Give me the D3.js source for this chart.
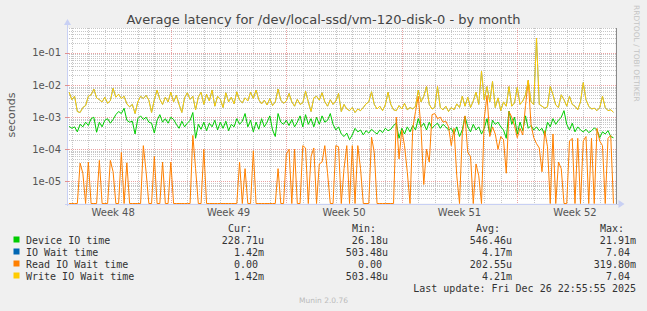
<!DOCTYPE html>
<html>
<head>
<meta charset="utf-8">
<script src="https://cdn.jsdelivr.net/npm/d3@7"></script>
<style>
  body { margin: 0; background: #f0f0f0; }
  svg { display: block; }
  text { font-family: "DejaVu Sans", sans-serif; }
  .mono { font-family: "DejaVu Sans Mono", monospace; white-space: pre; }
</style>
</head>
<body>
<svg id="chart"></svg>
<script>
/* data: one sample every 4 hours, values in microseconds */
const startTime = new Date(2025, 10, 23, 20, 0);
const stepHours = 4;

const deviceIO = [
  520, 450, 500, 350, 600, 500, 700, 550, 900, 1000,
  340, 700, 500, 800, 900, 650, 850, 1200, 1500, 1300,
  1900, 800, 700, 750, 300, 900, 1100, 850, 1000, 700,
  650, 320, 800, 1200, 700, 900, 650, 1000, 850, 600,
  450, 750, 500, 650, 800, 1400, 220, 600, 420, 700,
  380, 650, 500, 800, 400, 700, 450, 750, 380, 600,
  500, 900, 600, 750, 1300, 500, 800, 350, 700, 420,
  900, 500, 700, 1100, 400, 250, 1300, 700, 600, 800,
  550, 850, 500, 700, 1100, 500, 1200, 600, 900, 500,
  1000, 600, 1100, 700, 800, 1300, 600, 400, 500, 300,
  250, 320, 200, 280, 450, 350, 400, 280, 380, 320,
  420, 350, 300, 400, 330, 450, 380, 420, 550, 650,
  220, 450, 300, 500, 350, 550, 400, 900, 500, 650,
  400, 700, 450, 560, 650, 450, 600, 500, 400, 450,
  300, 500, 250, 400, 1050, 500, 350, 600, 400, 500,
  300, 450, 900, 280, 800, 600, 700, 500, 400, 220,
  1550, 600, 1000, 300, 700, 380, 1100, 450, 550, 400,
  500, 380, 450, 270, 700, 500, 900, 600, 800, 1000,
  1600, 600, 400, 650, 350, 500, 400, 350, 420, 330,
  380, 460, 400, 230, 350, 300, 380, 250, 229
];

const writeWait = [
  6000, 3500, 4500, 1500, 1400, 2000, 2300, 4500, 5000, 7500,
  4000, 3500, 3000, 4200, 2700, 3300, 8000, 4200, 5200, 3800,
  4500, 2600, 2100, 2500, 1300, 3000, 4500, 3800, 4800, 3400,
  1400, 3500, 7000, 3600, 2500, 4200, 3000, 6000, 3000, 4800,
  2500, 1400, 4000, 5800, 3600, 4500, 1700, 4200, 6000, 2500,
  5200, 3200, 7000, 2200, 4500, 3600, 2000, 5800, 3000, 4200,
  2600, 6200, 3400, 2800, 4000, 3200, 6000, 3800, 7000, 3500,
  2600, 3400, 2400, 3800, 2300, 3000, 7500, 3400, 2700, 3200,
  5500, 3000, 2200, 3600, 2500, 2800, 6500, 3000, 1500, 4000,
  4500, 3400, 5800, 3000, 2200, 3500, 2500, 3200, 5500, 1500,
  2500, 1800, 1600, 2000, 1400, 1800, 1600, 2000, 2600, 3000,
  6200, 2500, 1800, 2200, 1600, 2400, 6000, 2500, 1700, 1600,
  2300, 1800, 2700, 1700, 2000, 1800, 2200, 7000, 3000, 4500,
  9000, 2500, 1800, 2000, 9000, 2000, 1700, 2200, 1500, 2000,
  1700, 2600, 2000, 4500, 2200, 4200, 2000, 3200, 6000, 2500,
  27000, 3500, 9000, 3000, 13000, 2000, 4000, 1600, 3000, 2200,
  9000, 2200, 2800, 8500, 2500, 3200, 5000, 14000, 3000, 2500,
  290000, 2500, 2200, 1900, 2100, 9000, 5000, 2400, 2000, 5000,
  3500, 2200, 4500, 2500, 2200, 1700, 3000, 12000, 3500, 2200,
  1800, 1900, 1600, 2000, 4500, 2000, 1600, 1700, 1420
];

// the blue series sits exactly under the yellow one in the picture
const ioWait = writeWait;

const readWait = [
  0, 0, 0, 0, 37, 18, 0, 40, 0, 0,
  0, 45, 0, 0, 0, 45, 20, 0, 0, 80,
  0, 38, 0, 0, 0, 0, 0, 130, 20, 0,
  0, 60, 0, 0, 40, 0, 0, 40, 0, 0,
  0, 0, 0, 0, 0, 270, 25, 0, 0, 100,
  0, 0, 0, 0, 0, 0, 0, 0, 0, 0,
  0, 0, 40, 0, 25, 0, 0, 90, 0, 0,
  0, 0, 0, 0, 0, 0, 25, 0, 0, 70,
  100, 0, 100, 0, 0, 130, 110, 0, 60, 110,
  0, 35, 40, 130, 18, 0, 0, 130, 120, 0,
  25, 130, 0, 130, 0, 130, 25, 0, 0, 0,
  240, 80, 0, 0, 0, 0, 0, 0, 0, 1000,
  50, 400, 130, 20, 0, 450, 1500, 4500, 450, 8,
  100, 40, 1200, 1300, 900, 1000, 700, 750, 500, 130,
  450, 15, 0, 300, 1100, 80, 60, 0, 35, 15,
  0, 900, 4800, 250, 500, 300, 100, 250, 200, 18,
  1500, 1000, 550, 230, 450, 280, 2300, 14000, 600, 230,
  150, 110, 20, 380, 120, 0, 300, 0, 40, 25,
  0, 0, 180, 220, 0, 220, 0, 180, 250, 0,
  220, 0, 450, 180, 130, 0, 220, 270, 0
];

const yTicks = [1e-1, 1e-2, 1e-3, 1e-4, 1e-5];
const yTickLabels = ["1e-01", "1e-02", "1e-03", "1e-04", "1e-05"];

/* legend */
const legendNames = ["Device IO time", "IO Wait time", "Read IO Wait time", "Write IO Wait time"];
const legendColors = ["#00cc00", "#0066b3", "#ff8000", "#ffcc00"];
const curVals = ["228.71u", "  1.42m", "  0.00 ", "  1.42m"];
const minVals = [" 26.18u", "503.48u", "  0.00 ", "503.48u"];
const avgVals = ["546.46u", "  4.17m", "202.55u", "  4.21m"];
const maxVals = [" 21.91m", "  7.04 ", "319.80m", "  7.04 "];

(function() {
  const W = 647, H = 311;
  const left = 67, right = 615.5, top = 28, bottom = 203.5;

  const svg = d3.select("#chart").attr("width", W).attr("height", H);
  svg.append("rect").attr("width", W).attr("height", H).attr("fill", "#f0f0f0");

  let x = d3.scaleTime()
    .domain([new Date(2025, 10, 23, 16, 56), new Date(2025, 11, 26, 22, 56)])
    .range([left, right]);
  let y = d3.scaleLog()
    .domain([2.05e-6, 0.6])
    .range([bottom, top])
    .clamp(true);

  // plot background
  svg.append("rect")
    .attr("x", left).attr("y", top)
    .attr("width", right - left).attr("height", bottom - top)
    .attr("fill", "#ffffff");

  let grid = svg.append("g").attr("shape-rendering", "crispEdges");

  // minor horizontal grid (2..9 of each decade)
  let minorY = y.ticks().filter(v => {
    let m = Math.round(v / Math.pow(10, Math.floor(Math.log10(v) + 1e-9)));
    return m !== 1;
  });
  grid.selectAll(".hminor")
    .data(minorY)
    .enter().append("line")
    .attr("x1", left).attr("x2", right)
    .attr("y1", d => Math.round(y(d)) + 0.5)
    .attr("y2", d => Math.round(y(d)) + 0.5)
    .attr("stroke", "#c6c6c6")
    .attr("stroke-dasharray", "1,1");

  // minor vertical grid, one per day
  let days = d3.timeDay.range(x.domain()[0], x.domain()[1]);
  grid.selectAll(".vminor")
    .data(days)
    .enter().append("line")
    .attr("x1", d => Math.round(x(d)) + 0.5)
    .attr("x2", d => Math.round(x(d)) + 0.5)
    .attr("y1", top).attr("y2", bottom)
    .attr("stroke", "#c6c6c6")
    .attr("stroke-dasharray", "1,1");

  // major grid: decades and weeks
  grid.selectAll(".hmajor")
    .data(yTicks)
    .enter().append("line")
    .attr("x1", left).attr("x2", right)
    .attr("y1", d => Math.round(y(d)) + 0.5)
    .attr("y2", d => Math.round(y(d)) + 0.5)
    .attr("stroke", "#eaa2a2")
    .attr("stroke-dasharray", "1,1");

  let weeks = d3.timeWeek.range(x.domain()[0], x.domain()[1]);
  grid.selectAll(".vmajor")
    .data(weeks)
    .enter().append("line")
    .attr("x1", d => Math.round(x(d)) + 0.5)
    .attr("x2", d => Math.round(x(d)) + 0.5)
    .attr("y1", top).attr("y2", bottom)
    .attr("stroke", "#eaa2a2")
    .attr("stroke-dasharray", "1,1");

  // series
  const t = i => new Date(+startTime + i * stepHours * 3600e3);
  const line = d3.line()
    .x((d, i) => x(t(i)))
    .y(d => y(Math.max(d, 1e-3) * 1e-6));

  const series = [
    { data: deviceIO, color: legendColors[0], opacity: 1 },
    { data: ioWait, color: legendColors[1], opacity: 0.6 },
    { data: readWait, color: legendColors[2], opacity: 1 },
    { data: writeWait, color: legendColors[3], opacity: 1 }
  ];

  svg.append("g")
    .selectAll("path")
    .data(series)
    .enter().append("path")
    .attr("d", d => line(d.data))
    .attr("fill", "none")
    .attr("stroke", d => d.color)
    .attr("stroke-opacity", d => d.opacity)
    .attr("stroke-width", 1);

  // axes
  let axes = svg.append("g").attr("shape-rendering", "crispEdges");
  axes.append("line")
    .attr("x1", left + 0.5).attr("x2", left + 0.5)
    .attr("y1", top - 3).attr("y2", bottom + 2)
    .attr("stroke", "#c8d0f4");
  axes.append("line")
    .attr("x1", left - 2).attr("x2", right + 3)
    .attr("y1", Math.round(bottom) + 0.5).attr("y2", Math.round(bottom) + 0.5)
    .attr("stroke", "#c8d0f4");
  axes.append("line")
    .attr("x1", Math.round(right) + 0.5).attr("x2", Math.round(right) + 0.5)
    .attr("y1", top).attr("y2", bottom)
    .attr("stroke", "#8a8a8a");
  svg.append("path")
    .attr("d", `M${left - 3},${top - 3}L${left + 0.5},${top - 9}L${left + 4},${top - 3}Z`)
    .attr("fill", "#c8d0f4");
  svg.append("path")
    .attr("d", `M${right + 3},${bottom - 3.5}L${right + 9},${bottom + 0.5}L${right + 3},${bottom + 4.5}Z`)
    .attr("fill", "#c8d0f4");

  // tick marks on the axes
  axes.selectAll(".ytick")
    .data(yTicks)
    .enter().append("line")
    .attr("x1", left - 2).attr("x2", left + 2)
    .attr("y1", d => Math.round(y(d)) + 0.5)
    .attr("y2", d => Math.round(y(d)) + 0.5)
    .attr("stroke", "#e09090");

  // y labels
  svg.selectAll(".ylab")
    .data(yTicks)
    .enter().append("text")
    .attr("x", left - 6)
    .attr("y", d => y(d) + 3.5)
    .attr("text-anchor", "end")
    .attr("font-size", 10)
    .attr("fill", "#555")
    .text((d, i) => yTickLabels[i]);

  // week labels, centred in each week
  const weekFmt = d3.timeFormat("%V");
  let weekMids = d3.timeWeek.range(d3.timeWeek.floor(x.domain()[0]), x.domain()[1])
    .map(d => d3.timeHour.offset(d, 84))
    .filter(d => x(d) > left + 15 && x(d) < right - 15);
  svg.selectAll(".xlab")
    .data(weekMids)
    .enter().append("text")
    .attr("x", d => x(d))
    .attr("y", 216)
    .attr("text-anchor", "middle")
    .attr("font-size", 10)
    .attr("fill", "#555")
    .text(d => "Week " + weekFmt(d));

  // title and axis name
  svg.append("text")
    .attr("x", 323.5).attr("y", 23.5)
    .attr("text-anchor", "middle")
    .attr("font-size", 13)
    .attr("fill", "#444")
    .text("Average latency for /dev/local-ssd/vm-120-disk-0 - by month");

  svg.append("text")
    .attr("transform", "translate(15,115) rotate(-90)")
    .attr("text-anchor", "middle")
    .attr("font-size", 11)
    .attr("fill", "#555")
    .text("seconds");

  svg.append("text")
    .attr("transform", "translate(634,5) rotate(90)")
    .attr("font-size", 7.5)
    .attr("fill", "#c4c4c4")
    .text("RRDTOOL / TOBI OETIKER");

  // legend
  let lg = svg.append("g").attr("class", "mono").attr("font-size", 10).attr("fill", "#333");
  const heads = [["Cur:", 252], ["Min:", 376], ["Avg:", 500], ["Max:", 624]];
  heads.forEach(h => {
    lg.append("text").attr("class", "mono")
      .attr("x", h[1]).attr("y", 232)
      .attr("text-anchor", "end")
      .text(h[0]);
  });

  const cols = [[curVals, 264], [minVals, 388], [avgVals, 512], [maxVals, 636]];
  legendNames.forEach((name, i) => {
    let yy = 244 + i * 12;
    svg.append("rect")
      .attr("x", 13.5).attr("y", yy - 7.5)
      .attr("width", 6).attr("height", 6)
      .attr("fill", legendColors[i]);
    lg.append("text").attr("class", "mono")
      .attr("x", 26).attr("y", yy)
      .text(name);
    cols.forEach(c => {
      lg.append("text").attr("class", "mono")
        .attr("x", c[1]).attr("y", yy)
        .attr("text-anchor", "end")
        .text(c[0][i]);
    });
  });

  lg.append("text").attr("class", "mono")
    .attr("x", 636).attr("y", 292)
    .attr("text-anchor", "end")
    .text("Last update: Fri Dec 26 22:55:55 2025");

  svg.append("text")
    .attr("x", 323.5).attr("y", 303)
    .attr("text-anchor", "middle")
    .attr("font-size", 7.5)
    .attr("fill", "#bbb")
    .text("Munin 2.0.76");
})();
</script>
</body>
</html>
